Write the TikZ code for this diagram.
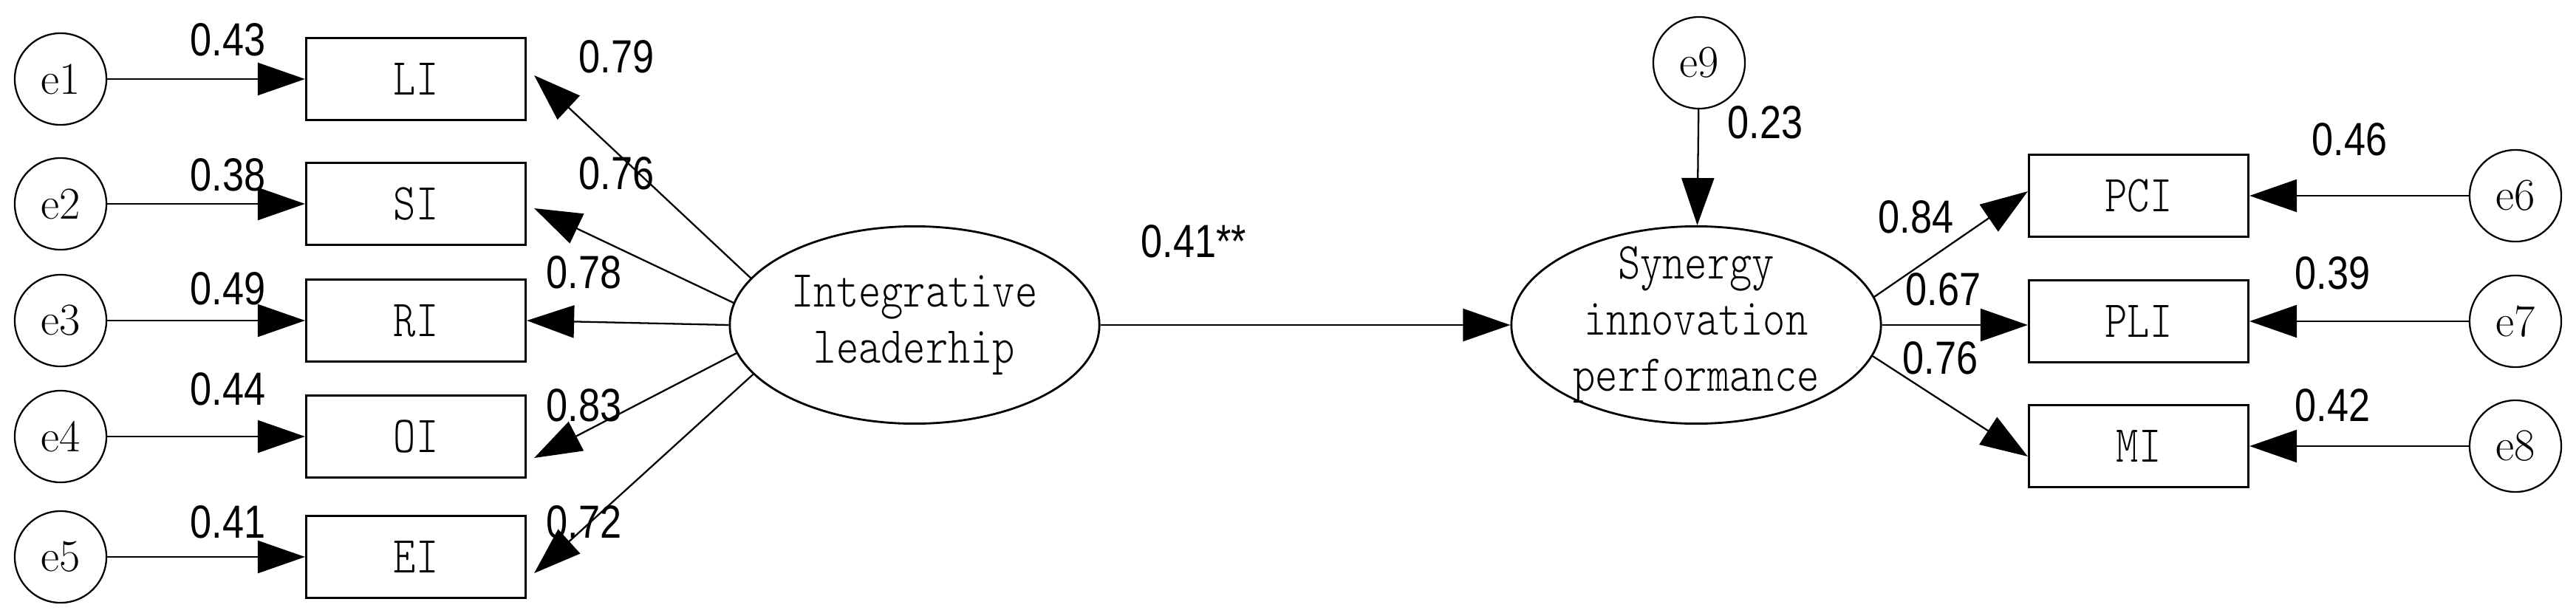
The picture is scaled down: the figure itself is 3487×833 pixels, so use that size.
\documentclass[tikz,border=0pt]{standalone}
\usepackage{fontspec}
\usetikzlibrary{arrows.meta,shapes.geometric}
\newfontfamily\numfont{Liberation Sans}[FakeStretch=0.83]
\newfontfamily\boxfont{lmmonolt10-regular.otf}[FakeStretch=0.82]
\begin{document}
\begin{tikzpicture}[x=0.01cm,y=-0.01cm,
  errc/.style={circle,draw,line width=0.65pt,minimum size=1.24cm,inner sep=0pt,font=\fontsize{17.5pt}{20pt}\selectfont},
  obs/.style={rectangle,draw,line width=0.85pt,minimum width=2.97cm,minimum height=1.10cm,inner sep=0pt,font=\boxfont\fontsize{20pt}{21.6pt}\selectfont},
  lat/.style={ellipse,draw,line width=0.8pt,minimum width=5cm,minimum height=2.67cm,inner sep=0pt},
  lattext/.style={align=center,inner sep=0pt,font=\boxfont\fontsize{20pt}{21.6pt}\selectfont},
  coef/.style={anchor=base west,inner sep=0pt,font=\numfont\fontsize{17.9pt}{20pt}\selectfont},
  arr/.style={line width=0.65pt,-{Triangle[length=0.64cm,width=0.44cm]}}]
\fill[white] (0,0) rectangle (3487,833);
\useasboundingbox (0,0) rectangle (3487,833);

% error terms left
\node[errc] (e1) at (82,107) {e1};
\node[errc] (e2) at (82,276) {e2};
\node[errc] (e3) at (82,434) {e3};
\node[errc] (e4) at (82,591) {e4};
\node[errc] (e5) at (82,754) {e5};

% observed left
\node[obs] (li) at (563,107) {LI};
\node[obs] (si) at (563,276) {SI};
\node[obs] (ri) at (563,434) {RI};
\node[obs] (oi) at (563,591) {OI};
\node[obs] (ei) at (563,754) {EI};

% latents
\node[lat] (int) at (1238,440) {};
\node[lattext] (intt) at (1238,440) {Integrative\\leaderhip};
\node[lat] (syn) at (2296,440) {};
\node[lattext] (synt) at (2296,440) {Synergy\\innovation\\performance};
\node[errc] (e9) at (2300,85) {e9};

% observed right
\node[obs] (pci) at (2895,265) {PCI};
\node[obs] (pli) at (2895,435) {PLI};
\node[obs] (mi) at (2895,604) {MI};

% error terms right
\node[errc] (e6) at (3405,265) {e6};
\node[errc] (e7) at (3405,435) {e7};
\node[errc] (e8) at (3405,604) {e8};

% arrows
\draw[arr] (e1) -- (li);
\draw[arr] (e2) -- (si);
\draw[arr] (e3) -- (ri);
\draw[arr] (e4) -- (oi);
\draw[arr] (e5) -- (ei);
\draw[arr] (int.164.1) -- ([xshift=0.1cm,yshift=0.05cm]li.east);
\draw[arr] (int.173.5) -- ([xshift=0.1cm,yshift=-0.06cm]si.east);
\draw[arr] (int.west) -- (ri.east);
\draw[arr] (int.189.5) -- ([xshift=0.1cm,yshift=-0.29cm]oi.east);
\draw[arr] (int.197.2) -- ([xshift=0.1cm,yshift=-0.22cm]ei.east);
\draw[arr] (int.east) -- (syn.west);
\draw[arr] (e9) -- (syn);
\draw[arr] (syn.9.8) -- ([yshift=0.06cm]pci.west);
\draw[arr] (syn.east) -- (syn.east -| pli.west);
\draw[arr] (syn.350.5) -- ([yshift=-0.14cm]mi.west);
\draw[arr] (e6) -- (pci);
\draw[arr] (e7) -- (pli);
\draw[arr] (e8) -- (mi);

% coefficients
\node[coef] (c1) at (257,75) {0.43};
\node[coef] (c2) at (257,258) {0.38};
\node[coef] (c3) at (257,412) {0.49};
\node[coef] (c4) at (257,548) {0.44};
\node[coef] (c5) at (257,728) {0.41};
\node[coef] (c6) at (783,98) {0.79};
\node[coef] (c7) at (783,256) {0.76};
\node[coef] (c8) at (739,390) {0.78};
\node[coef] (c9) at (739,570) {0.83};
\node[coef] (c10) at (739,728) {0.72};
\node[coef] (c11) at (1544,348) {0.41**};
\node[coef] (c12) at (2338,187) {0.23};
\node[coef] (c13) at (2542,315) {0.84};
\node[coef] (c14) at (2579,413) {0.67};
\node[coef] (c15) at (2575,506) {0.76};
\node[coef] (c16) at (3129,210) {0.46};
\node[coef] (c17) at (3106,391) {0.39};
\node[coef] (c18) at (3106,570) {0.42};
\end{tikzpicture}
\end{document}
